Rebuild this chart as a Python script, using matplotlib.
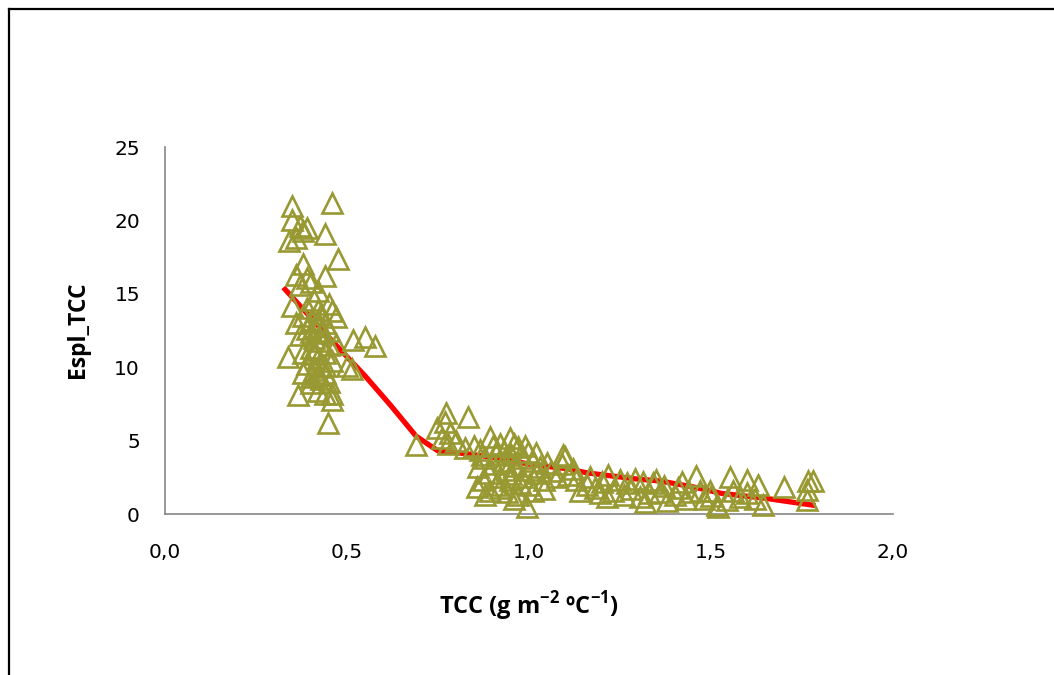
#!/usr/bin/env python3
"""Espl_TCC vs TCC scatter with fitted curve."""

import matplotlib

matplotlib.use("Agg")
import matplotlib.pyplot as plt
from matplotlib.lines import Line2D

# scatter points (TCC, Espl_TCC)
tcc = [
    0.35, 0.458, 0.35, 0.37, 0.38, 0.39, 0.36, 0.34, 0.44, 0.476,
    0.38, 0.36, 0.39, 0.44, 0.40, 0.37, 0.42, 0.35, 0.41, 0.45,
    0.43, 0.38, 0.40, 0.44, 0.47, 0.46, 0.42, 0.39, 0.45, 0.41,
    0.37, 0.43, 0.47, 0.40, 0.38, 0.44, 0.42, 0.338, 0.46, 0.39,
    0.41, 0.44, 0.38, 0.43, 0.45, 0.40, 0.42, 0.44, 0.46, 0.365,
    0.458, 0.448, 0.516, 0.549, 0.577, 0.513, 0.50, 0.42, 0.40, 0.43,
    0.41, 0.39, 0.36, 0.45, 0.42, 0.43, 0.41, 0.44, 0.40, 0.42,
    0.771, 0.833, 0.769, 0.746, 0.783, 0.778, 0.690, 0.824, 0.76, 0.80,
    0.893, 0.948, 0.92, 0.865, 0.97, 0.997, 1.02, 1.05, 1.094, 1.12,
    0.874, 0.857, 0.893, 0.92, 0.948, 1.01, 0.994, 0.975, 1.04, 1.077,
    1.108, 0.88, 0.90, 0.91, 0.93, 0.94, 0.95, 0.96, 0.98, 1.00,
    1.02, 0.86, 0.89, 0.92, 0.95, 0.97, 1.00, 1.03, 1.06, 0.90,
    0.93, 0.96, 0.99, 0.87, 0.91, 0.94, 0.98, 1.01, 0.88, 0.96,
    1.04, 1.09, 1.13, 0.85,
    1.168, 1.14, 1.195, 1.218, 1.25, 1.214, 1.269, 1.313, 1.305, 1.34,
    1.32, 1.16, 1.18, 1.23, 1.26, 1.28, 1.36, 1.37, 1.40, 1.42,
    1.44, 1.46, 1.48, 1.52, 1.38, 1.33, 1.35, 1.43, 1.552, 1.598,
    1.63, 1.70, 1.767, 1.78, 1.763, 1.763, 1.643, 1.516, 1.47, 1.497,
    1.56, 1.58, 1.544, 1.60, 1.62, 1.50, 1.41, 1.29, 1.20, 1.10,
]
espl = [
    21.0, 21.2, 20.0, 19.6, 19.3, 19.5, 18.8, 18.6, 19.1, 17.4,
    17.0, 16.3, 16.1, 16.2, 15.8, 15.6, 15.2, 14.2, 14.6, 14.3,
    13.6, 13.5, 13.2, 13.0, 13.4, 13.8, 12.8, 12.6, 12.5, 12.0,
    12.2, 11.8, 11.6, 11.3, 11.0, 11.0, 10.6, 10.7, 10.4, 10.2,
    9.8, 9.6, 9.6, 9.2, 9.0, 8.9, 8.4, 8.2, 7.8, 8.1,
    8.2, 6.2, 11.85, 12.06, 11.45, 9.9, 10.1, 13.1, 12.4, 10.0,
    10.9, 14.0, 13.0, 11.5, 9.5, 12.3, 11.2, 10.1, 9.3, 13.9,
    6.9, 6.6, 6.3, 5.85, 5.5, 4.8, 4.7, 4.5, 5.2, 5.0,
    5.25, 5.2, 4.8, 4.35, 4.55, 4.2, 4.15, 3.5, 4.0, 3.1,
    2.3, 1.85, 1.6, 1.75, 2.3, 1.6, 0.5, 2.1, 2.3, 2.5,
    2.65, 3.8, 3.4, 4.1, 3.6, 3.0, 4.0, 3.3, 3.8, 3.0,
    2.8, 3.2, 2.8, 2.5, 2.7, 1.3, 2.0, 3.2, 2.9, 4.6,
    4.3, 4.8, 4.6, 4.0, 2.0, 1.5, 2.5, 3.6, 1.3, 1.0,
    1.7, 3.4, 2.3, 4.6,
    2.5, 1.6, 1.4, 2.65, 2.3, 1.15, 2.1, 2.2, 1.15, 2.1,
    0.8, 2.0, 1.8, 1.6, 1.3, 1.7, 1.5, 1.9, 1.3, 2.2,
    1.5, 2.6, 1.0, 0.5, 0.9, 1.4, 2.3, 1.0, 2.5, 2.35,
    2.0, 1.85, 2.25, 2.25, 1.65, 0.95, 0.6, 0.6, 1.6, 1.6,
    1.6, 1.15, 0.95, 1.4, 1.0, 1.2, 1.8, 2.4, 2.2, 3.9,
]

# fitted curve
fit_x = [0.33, 0.40, 0.47, 0.55, 0.62, 0.69, 0.75, 0.83, 0.92,
         1.01, 1.10, 1.16, 1.29, 1.36, 1.45, 1.53, 1.65, 1.78]
fit_y = [15.3, 13.4, 11.5, 9.4, 7.4, 5.3, 4.3, 4.1, 3.8,
         3.35, 3.1, 2.8, 2.4, 2.25, 1.85, 1.4, 1.07, 0.6]

xticks = [0.0, 0.5, 1.0, 1.5, 2.0]
xtick_labels = ["0,0", "0,5", "1,0", "1,5", "2,0"]
yticks = [0, 5, 10, 15, 20, 25]


def main() -> None:
    plt.rcParams["mathtext.fontset"] = "custom"
    plt.rcParams["mathtext.rm"] = "Open Sans"
    plt.rcParams["mathtext.bf"] = "Open Sans:bold"

    fig = plt.figure(figsize=(10.54, 6.75), dpi=100)
    ax = fig.add_axes([0.1565, 0.2385, 0.6908, 0.5437])

    ax.plot(fit_x, fit_y, color="red", linewidth=3.8, zorder=2)
    ax.plot(tcc, espl, linestyle="none", marker="^", markersize=15,
            markerfacecolor="none", markeredgecolor="#999933",
            markeredgewidth=1.9, zorder=3, clip_on=False)

    ax.set_xlim(0, 2.0)
    ax.set_ylim(0, 25)
    ax.set_xticks(xticks)
    ax.set_xticklabels(xtick_labels)
    ax.set_yticks(yticks)
    ax.tick_params(length=0, labelsize=14.5, colors="black")
    ax.tick_params(axis="x", pad=21)
    ax.tick_params(axis="y", pad=18)

    for side in ("top", "right"):
        ax.spines[side].set_visible(False)
    for side in ("left", "bottom"):
        ax.spines[side].set_color("#868686")
        ax.spines[side].set_linewidth(1.2)

    fig.text(0.074, 0.511, "Espl_TCC", rotation=90, ha="center", va="center",
             fontsize=16.5, fontweight="bold", family="Open Sans")
    fig.text(0.502, 0.102, r"TCC (g m$^{\mathbf{-2}}$ ºC$^{\mathbf{-1}}$)",
             ha="center", va="center", fontsize=17, fontweight="bold",
             family="Open Sans")

    # outer frame (left and top edges)
    fig.add_artist(Line2D([0.0085, 0.0085], [0.0, 0.987], color="black",
                          linewidth=1.6, transform=fig.transFigure))
    fig.add_artist(Line2D([0.0085, 1.0], [0.987, 0.987], color="black",
                          linewidth=1.6, transform=fig.transFigure))

    fig.savefig("out.png", dpi=100)
    plt.close(fig)


if __name__ == "__main__":
    main()
